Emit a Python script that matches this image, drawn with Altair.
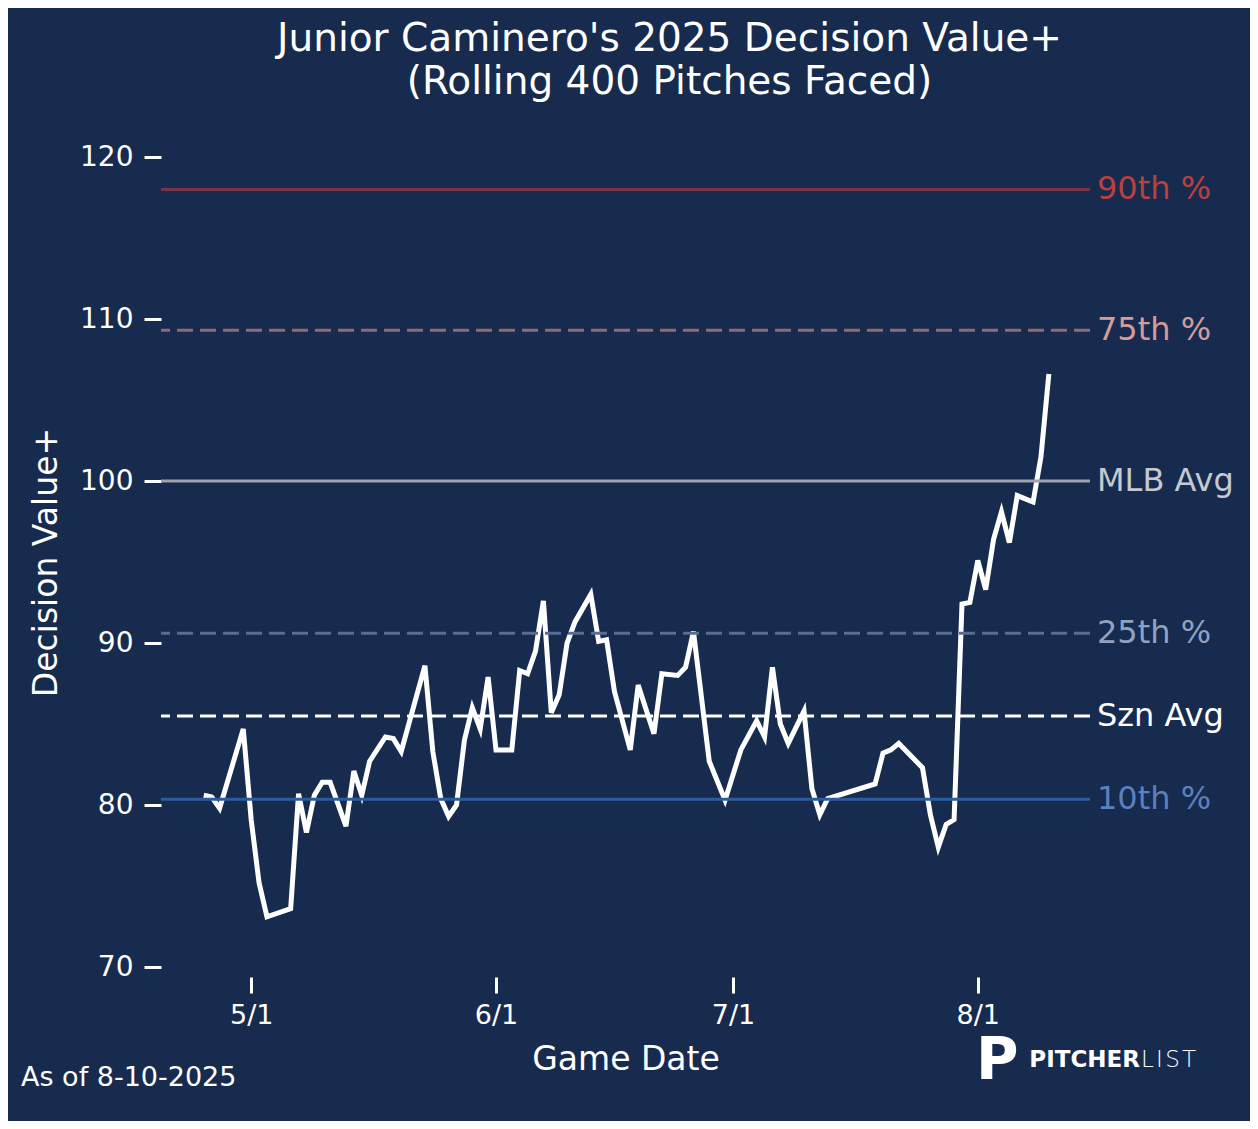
import altair as alt
import pandas as pd

# ---------------- data ----------------
dates = ["2025-04-25","2025-04-26","2025-04-27","2025-04-30","2025-05-01","2025-05-02","2025-05-03",
         "2025-05-06","2025-05-07","2025-05-08","2025-05-09","2025-05-10","2025-05-11","2025-05-13",
         "2025-05-14","2025-05-15","2025-05-16","2025-05-18","2025-05-19","2025-05-20","2025-05-23",
         "2025-05-24","2025-05-25","2025-05-26","2025-05-27","2025-05-28","2025-05-29","2025-05-30",
         "2025-05-31","2025-06-01","2025-06-03","2025-06-04","2025-06-05","2025-06-06","2025-06-07",
         "2025-06-08","2025-06-09","2025-06-10","2025-06-11","2025-06-13","2025-06-14","2025-06-15",
         "2025-06-16","2025-06-18","2025-06-19","2025-06-21","2025-06-22","2025-06-24","2025-06-25",
         "2025-06-26","2025-06-28","2025-06-30","2025-07-02","2025-07-04","2025-07-05","2025-07-06",
         "2025-07-07","2025-07-08","2025-07-10","2025-07-11","2025-07-12","2025-07-13","2025-07-19",
         "2025-07-20","2025-07-21","2025-07-22","2025-07-25","2025-07-26","2025-07-27","2025-07-28",
         "2025-07-29","2025-07-30","2025-07-31","2025-08-01","2025-08-02","2025-08-03","2025-08-04",
         "2025-08-05","2025-08-06","2025-08-08","2025-08-09","2025-08-10"]
values = [80.6,80.5,79.8,84.7,79.1,75.2,73.1,73.6,80.7,78.3,
          80.6,81.4,81.4,78.7,82.1,80.6,82.7,84.2,84.1,83.3,
          88.6,83.3,80.4,79.3,80.0,84.0,86.0,84.7,87.9,83.4,
          83.4,88.3,88.1,89.5,92.6,85.7,86.8,90.0,91.3,93.0,
          90.1,90.2,87.0,83.4,87.4,84.4,88.1,88.0,88.5,90.7,
          82.7,80.3,83.4,85.2,84.2,88.5,85.0,83.8,85.8,81.0,
          79.4,80.4,81.3,83.2,83.4,83.8,82.3,79.4,77.4,78.8,
          79.1,92.4,92.5,95.1,93.3,96.4,98.1,96.2,99.1,98.7,
          101.5,106.6]

ref_labels = ["90th %", "75th %", "MLB Avg", "25th %", "Szn Avg", "10th %"]
ref_values = [118.0, 109.3, 100.0, 90.6, 85.5, 80.35]
ref_line_colors = ["#7a3448", "#8c6b7a", "#9ca2ae", "#5a6e93", "#ffffff", "#2c5c9e"]
ref_text_colors = ["#b8403f", "#d49b98", "#c4c9d3", "#8fa2c2", "#ffffff", "#5b80be"]
ref_dashed = [False, True, False, True, True, False]

y_ticks = [70, 80, 90, 100, 110, 120]
x_tick_months = [5, 6, 7, 8]

title_lines = ["Junior Caminero's 2025 Decision Value+", "(Rolling 400 Pitches Faced)"]
footnote = "As of 8-10-2025"

# ---------------- style ----------------
BG = "#172b4f"
FONT = "DejaVu Sans"
W, H = 929, 810

df = pd.DataFrame({"date": dates, "value": values})

xscale = alt.Scale(
    type="utc",
    domain=[alt.DateTime(year=2025, month=4, date=19, hours=14, utc=True),
            alt.DateTime(year=2025, month=8, date=15, hours=5, utc=True)],
)
yscale = alt.Scale(domain=[70, 120], nice=False, zero=False)

x_axis = alt.Axis(
    values=[alt.DateTime(year=2025, month=m, date=1, utc=True) for m in x_tick_months],
    labelExpr="utcFormat(datum.value, '%-m/%-d')",
    title="Game Date", titleFontSize=33, titleFontWeight="normal", titleColor="white",
    titleFont=FONT, titlePadding=15,
    labelFont=FONT, labelFontSize=27, labelColor="white", labelPadding=9,
    tickColor="white", tickSize=16, tickWidth=3, offset=10,
    domain=False, grid=False,
)
y_axis = alt.Axis(
    values=y_ticks,
    title="Decision Value+", titleFontSize=33, titleFontWeight="normal", titleColor="white",
    titleFont=FONT, titlePadding=16,
    labelFont=FONT, labelFontSize=28, labelColor="white", labelPadding=11,
    tickColor="white", tickSize=17, tickWidth=3,
    domain=False, grid=False,
)

layers = []
for lab, val, lc, tc, dashed in zip(ref_labels, ref_values, ref_line_colors, ref_text_colors, ref_dashed):
    d = pd.DataFrame({"v": [val], "label": [lab]})
    rule_kwargs = dict(color=lc, strokeWidth=3)
    if dashed:
        rule_kwargs["strokeDash"] = [16, 7]
    layers.append(
        alt.Chart(d).mark_rule(**rule_kwargs).encode(
            y=alt.Y("v:Q", scale=yscale, axis=y_axis)
        )
    )
    layers.append(
        alt.Chart(d).mark_text(align="left", baseline="middle", font=FONT, fontSize=32, color=tc).encode(
            y=alt.Y("v:Q", scale=yscale, axis=y_axis),
            x=alt.value(W + 7),
            text="label:N",
        )
    )

line = alt.Chart(df).mark_line(color="white", strokeWidth=5).encode(
    x=alt.X("date:T", scale=xscale, axis=x_axis),
    y=alt.Y("value:Q", scale=yscale, axis=y_axis),
)

ann = pd.DataFrame({"t": [footnote]})
foot = alt.Chart(ann).mark_text(align="left", baseline="middle", font=FONT, fontSize=27, color="white").encode(
    x=alt.value(-140), y=alt.value(921), text="t:N"
)
logo_p = alt.Chart(pd.DataFrame({"t": ["P"]})).mark_text(
    align="left", baseline="alphabetic", font=FONT, fontSize=58, fontWeight="bold", color="white"
).encode(x=alt.value(815), y=alt.value(922), text="t:N")
logo_a = alt.Chart(pd.DataFrame({"t": ["PITCHER"]})).mark_text(
    align="right", baseline="alphabetic", font=FONT, fontSize=23, fontWeight="bold", color="white"
).encode(x=alt.value(979), y=alt.value(910), text="t:N")
logo_b = alt.Chart(pd.DataFrame({"t": ["L\u200aI\u200aS\u200aT"]})).mark_text(
    align="left", baseline="alphabetic", font=FONT, fontSize=23, fontWeight=200, color="white"
).encode(x=alt.value(980), y=alt.value(910), text="t:N")

chart = alt.layer(line, *layers, foot, logo_p, logo_a, logo_b).properties(
    width=W, height=H,
    background=BG,
    padding={"left": 153, "top": 149, "right": 160, "bottom": 154},
    autosize=alt.AutoSizeParams(type="none"),
    title=alt.TitleParams(
        text=title_lines, fontSize=39, font=FONT, fontWeight="normal", color="white",
        anchor="middle", frame="group", dx=44, offset=41, lineHeight=43,
    ),
).configure_view(stroke=None)

chart.save("out.html", embed_options={"renderer": "svg", "actions": False})
